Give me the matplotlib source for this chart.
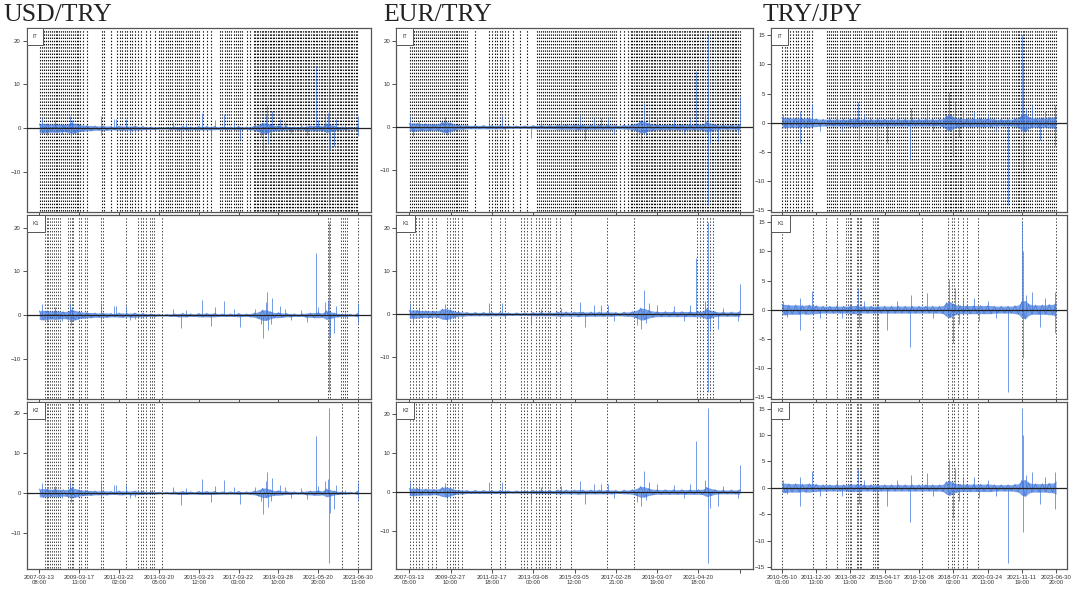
import numpy as np
import matplotlib.pyplot as plt

# pairs shown in the three columns, panel rows
PAIRS = ["USD/TRY", "EUR/TRY", "TRY/JPY"]
ROWS = ["IT", "K1", "K2"]

# x tick labels (placed at equally spaced observation indices)
USD_TICKS = ["2007-03-13\n08:00", "2009-03-17\n13:00", "2011-03-22\n02:00",
             "2013-03-20\n05:00", "2015-03-23\n12:00", "2017-03-22\n03:00",
             "2019-03-28\n10:00", "2021-05-20\n20:00", "2023-06-30\n13:00"]
EUR_TICKS = ["2007-03-13\n05:00", "2009-02-27\n10:00", "2011-02-17\n18:00",
             "2013-03-08\n00:00", "2015-03-05\n12:00", "2017-02-28\n21:00",
             "2019-03-07\n19:00", "2021-04-20\n18:00", ""]
JPY_TICKS = ["2010-05-10\n01:00", "2011-12-30\n13:00", "2013-08-22\n13:00",
             "2015-04-17\n15:00", "2016-12-08\n17:00", "2018-07-31\n02:00",
             "2020-03-24\n13:00", "2021-11-11\n19:00", "2023-06-30\n20:00"]

# typical return band amplitude, one value per 1.25 % of the sample
USD_BAND = [1.0, 1.1, 1.0, 0.9, 1.0, 0.9, 0.8, 0.9,
            1.2, 1.1, 0.8, 0.7, 0.6, 0.6, 0.5, 0.5,
            0.5, 0.5, 0.4, 0.4, 0.5, 0.5, 0.4, 0.5,
            0.5, 0.4, 0.4, 0.3, 0.3, 0.3, 0.2, 0.2,
            0.2, 0.3, 0.3, 0.4, 0.4, 0.4, 0.3, 0.3,
            0.4, 0.4, 0.4, 0.4, 0.4, 0.3, 0.3, 0.3,
            0.3, 0.3, 0.4, 0.3, 0.3, 0.4, 0.5, 0.8,
            1.2, 1.2, 0.8, 0.6, 0.6, 0.5, 0.4, 0.4,
            0.3, 0.3, 0.3, 0.5, 0.5, 0.6, 0.6, 0.5,
            1.0, 0.8, 0.5, 0.4, 0.3, 0.3, 0.2, 0.2, 0.5]
EUR_BAND = [0.9, 1.0, 0.9, 0.8, 0.8, 0.8, 0.7, 0.8,
            1.2, 1.3, 1.0, 0.7, 0.5, 0.5, 0.4, 0.4,
            0.4, 0.4, 0.4, 0.4, 0.4, 0.4, 0.4, 0.4,
            0.3, 0.3, 0.3, 0.3, 0.3, 0.3, 0.4, 0.4,
            0.4, 0.4, 0.4, 0.4, 0.5, 0.5, 0.5, 0.5,
            0.5, 0.6, 0.5, 0.5, 0.5, 0.5, 0.5, 0.5,
            0.5, 0.5, 0.4, 0.4, 0.5, 0.5, 0.6, 0.9,
            1.4, 1.3, 0.9, 0.7, 0.6, 0.6, 0.6, 0.6,
            0.6, 0.6, 0.6, 0.6, 0.6, 0.6, 0.6, 0.7,
            1.2, 0.9, 0.6, 0.5, 0.5, 0.5, 0.5, 0.5, 0.6]
JPY_BAND = [0.9, 0.9, 0.8, 0.8, 0.8, 0.8, 0.7, 0.8,
            0.8, 0.7, 0.7, 0.6, 0.6, 0.6, 0.6, 0.6,
            0.6, 0.6, 0.6, 0.6, 0.7, 0.7, 0.7, 0.6,
            0.6, 0.6, 0.6, 0.6, 0.6, 0.6, 0.6, 0.6,
            0.6, 0.6, 0.6, 0.6, 0.6, 0.6, 0.6, 0.6,
            0.6, 0.6, 0.6, 0.6, 0.6, 0.6, 0.6, 0.7,
            1.2, 1.4, 1.0, 0.8, 0.7, 0.7, 0.7, 0.7,
            0.7, 0.7, 0.7, 0.7, 0.7, 0.7, 0.6, 0.6,
            0.6, 0.6, 0.6, 0.6, 0.7, 0.8, 1.4, 1.6,
            1.0, 0.8, 0.8, 0.8, 0.8, 0.8, 0.9, 0.9, 1.2]

# large returns: position in sample (%) and value
USD_SPIKE_POS = [1.0, 2.5, 5.0, 7.0, 9.6, 9.8, 10.3, 12.0, 19.3, 19.4, 23.5, 24.0,
                 27.3, 28.5, 30.0, 42.0, 44.4, 46.0, 51.0, 53.8, 55.0, 58.0, 61.0,
                 63.0, 67.5, 69.5, 70.0, 71.0, 71.4, 71.6, 72.5, 73.0, 75.5, 77.0,
                 79.0, 82.0, 84.0, 86.8, 87.5, 89.5, 90.4, 90.7, 90.8, 91.0, 92.5,
                 93.0, 96.0, 99.8, 100.0]
USD_SPIKE_VAL = [2.5, -1.5, 1.8, -1.3, 2.8, -2.3, 1.8, -1.0, 2.8, -1.5, 2.0, 2.0,
                 2.0, -1.2, -1.0, 1.5, -3.0, 1.2, 3.5, -2.4, 1.8, 3.2, 1.5,
                 -2.8, 1.5, -2.0, -5.2, 3.0, 5.3, -3.5, -2.0, 3.8, 2.0, 1.5,
                 -1.2, 1.2, -1.5, 14.2, 1.8, 3.0, 3.5, 21.3, -17.6, -5.0, -4.0,
                 2.0, 0.8, -1.7, 2.7]
EUR_SPIKE_POS = [0.2, 1.0, 3.0, 10.8, 11.5, 12.3, 24.0, 28.0, 29.0, 36.8, 40.0, 46.0,
                 51.6, 53.1, 56.0, 58.0, 60.0, 62.0, 69.0, 70.2, 71.0, 71.5, 72.5,
                 75.0, 80.0, 83.0, 85.0, 86.8, 89.5, 90.3, 90.4, 91.0, 93.5, 95.0,
                 99.5, 100.0]
EUR_SPIKE_VAL = [2.5, -2.0, 1.5, 2.3, -1.8, -1.5, 2.5, 2.5, -1.0, -2.5, 1.2, 1.5,
                 2.8, -3.0, 2.0, 2.0, 2.0, -1.5, -2.5, -3.5, 5.5, -2.0, 2.5,
                 2.0, 1.8, -1.5, 2.0, 13.0, 3.0, 21.5, -18.2, -4.0, -3.5, 1.5,
                 -1.5, 7.0]
JPY_SPIKE_POS = [0.5, 2.0, 6.5, 6.6, 11.1, 14.0, 20.0, 22.0, 27.8, 28.2, 30.0, 34.5,
                 38.5, 42.0, 46.7, 47.0, 52.9, 55.0, 61.0, 62.5, 63.0, 64.5, 66.0,
                 70.0, 72.0, 75.0, 78.0, 82.4, 87.6, 87.8, 87.9, 89.0, 91.4, 94.0,
                 96.0, 99.5, 99.7]
JPY_SPIKE_VAL = [1.5, -1.2, -3.5, 2.0, 3.2, -1.5, 1.5, -1.5, 3.5, -3.0, 1.5, -3.5,
                 -3.5, 1.5, -6.5, 2.5, 2.8, -1.5, 5.3, -5.8, 3.8, -2.5, 2.0,
                 2.0, -2.0, 1.5, -1.5, -14.2, 15.1, 10.0, -8.3, 2.5, 3.0, -3.0,
                 2.0, -4.0, 3.0]

# detected jump times (position in sample, %) for each test
USD_IT = ("0.3 0.9 1.5 2.1 2.7 3.3 3.9 4.5 5.1 5.7 6.3 6.9 7.5 8.1 8.7 9.3 9.9 10.5 "
          "11.1 11.7 12.3 12.9 13.8 15.0 19.7 20.3 22.6 24.4 25.2 26.0 26.8 27.6 28.4 "
          "29.2 30.0 30.8 32.0 33.4 34.8 36.2 37.5 38.2 38.9 39.6 40.3 41.0 41.7 42.4 "
          "43.1 43.8 44.5 45.2 45.9 46.6 47.3 48.0 48.7 49.4 50.2 51.4 52.6 53.8 "
          "56.7 57.4 58.1 58.8 59.5 60.2 60.9 61.6 62.3 63.0 63.7 65.0 66.2 67.2 67.7 "
          "68.2 68.7 69.2 69.7 70.2 70.7 71.2 71.7 72.2 72.7 73.2 73.7 74.2 74.7 75.2 "
          "75.7 76.2 76.7 77.2 77.7 78.2 78.7 79.2 79.7 80.2 80.7 81.2 81.7 82.2 82.7 "
          "83.2 83.7 84.2 84.7 85.2 85.7 86.2 86.7 87.2 87.7 88.2 88.7 89.2 89.7 90.2 "
          "90.7 91.2 91.7 92.2 92.7 93.2 93.7 94.2 94.7 95.2 95.7 96.2 96.7 97.2 97.7 "
          "98.2 98.7 99.2 99.7")
USD_K1 = ("1.9 2.4 2.8 3.4 4.1 4.7 5.3 6.0 6.6 9.1 9.7 10.3 10.7 12.5 13.2 14.4 15.0 "
          "19.4 20.1 27.3 31.0 32.0 32.6 33.5 34.8 35.4 36.1 38.6 90.6 91.2 94.7 95.3 "
          "95.9 96.6 100.0")
USD_K2 = ("1.9 2.4 2.8 3.4 4.1 4.7 5.3 6.0 6.6 9.1 9.7 10.3 10.7 12.5 13.2 14.4 15.0 "
          "19.4 20.1 27.3 31.0 32.0 32.6 33.5 34.8 35.4 36.1 38.6 95.0 100.0")
EUR_IT = ("0.2 0.8 1.4 2.0 2.6 3.2 3.8 4.4 5.0 5.6 6.2 6.8 7.4 8.0 8.6 9.2 9.8 10.4 "
          "11.0 11.6 12.2 12.8 13.4 14.0 14.6 15.2 15.8 16.4 17.0 17.6 19.8 24.2 25.0 "
          "25.8 26.6 27.4 28.2 29.0 29.8 31.5 33.5 35.5 38.6 39.2 39.8 40.4 41.0 41.6 "
          "42.2 42.8 43.4 44.0 44.6 45.2 45.8 46.4 47.0 47.6 48.2 48.8 49.4 50.0 50.6 "
          "51.2 51.8 52.4 53.0 53.6 54.2 54.8 55.4 56.0 56.6 57.2 57.8 58.4 59.0 59.6 "
          "60.2 60.8 61.4 62.0 62.6 63.8 65.0 66.2 67.0 67.5 68.0 68.5 69.0 69.5 70.0 "
          "70.5 71.0 71.5 72.0 72.5 73.0 73.5 74.0 74.5 75.0 75.5 76.0 76.5 77.0 77.5 "
          "78.0 78.5 79.0 79.5 80.0 80.5 81.0 81.5 82.0 82.5 83.0 83.5 84.0 84.5 85.0 "
          "85.5 86.0 86.5 87.0 87.5 88.0 88.5 89.0 89.5 90.0 90.5 91.0 91.5 92.0 92.5 "
          "93.0 93.5 94.0 94.5 95.0 95.5 96.0 96.5 97.0 97.5 98.0 98.5 99.0 99.5 100.0")
EUR_K1 = ("0.2 1.1 2.0 2.9 3.8 5.6 6.8 8.1 11.4 12.3 13.2 13.8 14.7 15.9 24.7 27.4 "
          "28.9 33.7 34.7 35.6 36.8 38.3 39.2 40.1 41.0 41.9 42.5 44.3 45.5 48.8 59.8 "
          "67.9 87.0 88.0 89.0 90.0 91.0 92.0")
EUR_K2 = ("0.2 1.1 2.0 2.9 3.8 5.6 6.8 8.1 11.4 12.3 13.2 13.8 14.7 15.9 24.7 27.4 "
          "28.9 33.7 34.7 35.6 36.8 38.3 39.2 40.1 41.0 41.9 42.5 44.3 45.5 48.8 59.8 "
          "67.9")
JPY_IT = ("0.0 1.0 2.0 3.0 4.0 5.0 6.0 7.0 8.0 9.0 10.0 11.0 16.3 17.0 17.8 18.6 19.4 "
          "20.2 21.0 21.8 22.6 23.4 24.2 25.0 25.8 26.6 27.4 28.2 29.0 29.8 30.6 31.4 "
          "32.2 33.0 33.8 34.6 35.4 36.2 37.0 37.8 38.6 39.4 40.2 41.0 41.8 42.6 43.4 "
          "44.2 45.0 45.8 46.6 47.4 48.2 49.0 49.8 50.6 51.4 52.2 53.0 53.8 54.6 55.4 "
          "56.2 57.0 57.8 58.6 59.4 60.0 60.6 61.2 61.8 62.4 63.0 63.6 64.2 64.8 65.4 "
          "66.2 67.0 67.8 68.6 69.4 70.2 71.0 71.8 72.6 73.4 74.2 75.0 75.8 76.6 77.4 "
          "78.2 79.0 79.8 80.6 81.4 82.2 83.0 83.8 84.6 85.4 86.0 86.6 87.2 87.8 88.4 "
          "89.0 89.8 90.6 91.4 92.2 93.0 93.8 94.6 95.4 96.2 97.0 97.8 98.6 99.4 100.0")
JPY_K1 = ("0.0 11.3 16.2 20.1 23.5 24.1 24.7 25.3 27.2 27.8 28.4 29.0 33.3 33.9 34.5 "
          "35.1 51.0 60.7 62.0 62.8 64.4 66.2 67.4 71.7 87.6 100.0")
JPY_K2 = ("0.0 11.3 16.2 20.1 23.5 24.1 24.7 25.3 27.2 27.8 28.4 29.0 33.3 33.9 34.5 "
          "35.1 51.0 60.7 62.0 62.8 64.4 66.2 67.4 71.7")

BLUE = "#3f76db"

# panel boxes in pixels: (left, right) per column, (top, bottom) per row
COL_X = [(26.5, 371), (396, 753), (771, 1067)]
ROW_Y = [(28, 212), (215, 399), (402, 569)]
TITLE_X = [3, 383, 763]
EVENT_LW = [0.8, 0.55, 0.55]
W, H = 1072, 589


def parse(s):
  return np.array(s.split(), dtype=float)


def draw_panel(ax, band, spike_pos, spike_val, events, tag, ticks, yticks, ev_lw):
  grid = np.linspace(0, 100, len(band))
  band = np.array(band)
  lo = min(spike_val)
  hi = max(spike_val)
  pad = 0.04 * (hi - lo)
  ax.set_ylim(lo - pad, hi + pad)
  ax.set_xlim(-4, 104)

  ax.vlines(events, lo - 0.8 * pad, hi + 0.8 * pad, colors="#111111",
            linewidth=ev_lw, linestyles=(0, (1.0, 1.3)), zorder=1)
  # band of ordinary returns: envelope plus the up/down trace
  ax.fill_between(grid, -band, band, color=BLUE, linewidth=0,
                  alpha=0.7, zorder=2)
  trace = np.where(np.arange(len(band)) % 2 == 0, band, -band)
  ax.plot(grid, trace, color=BLUE, linewidth=0.5, alpha=0.9, zorder=2)
  ax.vlines(spike_pos, 0, spike_val, colors=BLUE, linewidth=0.6,
            alpha=0.85, zorder=2)
  ax.axhline(0, color="#222222", linewidth=0.9, zorder=3)

  ax.set_xticks(np.linspace(0, 100, len(ticks)))
  ax.set_xticklabels(ticks, linespacing=1.1)
  ax.set_yticks(yticks)
  ax.tick_params(direction="out", length=3, width=0.6, labelsize=4.3,
                 pad=1.2, colors="#333333")
  for s in ax.spines.values():
    s.set_color("#555555")
    s.set_linewidth(0.9)

  ax.annotate(tag, xy=(0, 1), xycoords="axes fraction", xytext=(4.5, -4.5),
              textcoords="offset points", ha="left", va="top", fontsize=3.8,
              color="#333333",
              bbox=dict(boxstyle="square,pad=1.1", fc="white", ec="#555555",
                        lw=0.7), zorder=5)


def main():
  plt.rcParams["font.family"] = ["Liberation Sans", "DejaVu Sans"]
  plt.rcParams["lines.scale_dashes"] = False
  fig = plt.figure(figsize=(W / 100, H / 100), dpi=100)

  data = [
    (USD_BAND, USD_SPIKE_POS, USD_SPIKE_VAL, [USD_IT, USD_K1, USD_K2],
     USD_TICKS, [-10, 0, 10, 20]),
    (EUR_BAND, EUR_SPIKE_POS, EUR_SPIKE_VAL, [EUR_IT, EUR_K1, EUR_K2],
     EUR_TICKS, [-10, 0, 10, 20]),
    (JPY_BAND, JPY_SPIKE_POS, JPY_SPIKE_VAL, [JPY_IT, JPY_K1, JPY_K2],
     JPY_TICKS, [-15, -10, -5, 0, 5, 10, 15]),
  ]

  for c, (band, sp, sv, evs, ticks, yt) in enumerate(data):
    x0, x1 = COL_X[c]
    for r in range(3):
      y0, y1 = ROW_Y[r]
      ax = fig.add_axes([x0 / W, 1 - y1 / H, (x1 - x0) / W, (y1 - y0) / H])
      draw_panel(ax, band, sp, sv, parse(evs[r]), ROWS[r], ticks, yt,
                 EVENT_LW[r])
      if r < 2:
        ax.set_xticklabels([])
    fig.text(TITLE_X[c] / W, 1 - 4 / H, PAIRS[c], ha="left", va="top",
             fontsize=18.5, family=["Liberation Serif", "DejaVu Serif"],
             color="#222222")

  fig.savefig("out.png", dpi=100)


if __name__ == "__main__":
  main()
